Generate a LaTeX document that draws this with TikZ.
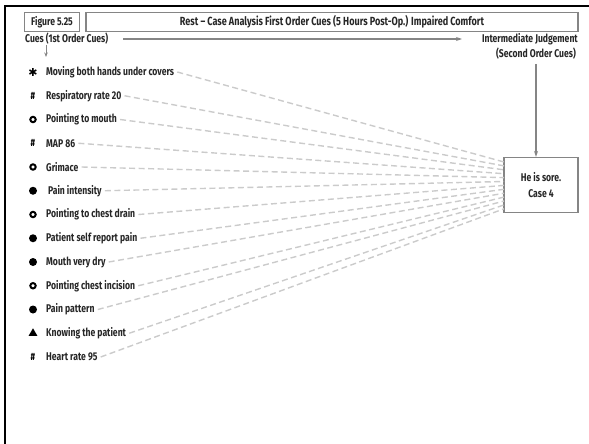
\documentclass[tikz,border=0pt]{standalone}
\usepackage{fontspec}
\setmainfont{Fira Sans}[FakeStretch=0.77]
\newfontfamily\djv{DejaVu Sans}
\usetikzlibrary{shapes.geometric,arrows.meta}
\definecolor{txt}{HTML}{262626}
\definecolor{boxline}{HTML}{858585}
\definecolor{dashc}{HTML}{CBCBCB}
\begin{document}
\begin{tikzpicture}[x=1pt,y=-1pt,
  every node/.style={font=\fontsize{11.2}{12}\selectfont\bfseries, text=txt, inner sep=0pt},
  framebox/.style={draw=boxline, line width=1.1pt, inner sep=0pt},
  cue/.style={anchor=west},
  sym/.style={text=black},
  fan/.style={draw=dashc, line width=1.4pt, dash pattern=on 6pt off 3.5pt},
  garrow/.style={draw=boxline, line width=1.1pt, -{Stealth[length=6pt,width=4pt]}}]
\useasboundingbox (0,0) rectangle (589,444);
% partial frame
\draw[line width=2.5pt, black] (5,444) -- (5,6) -- (589,6);
% header
\node[framebox, minimum width=55pt, minimum height=19pt] (fig) at (52,22) {Figure 5.25};
\node[framebox, minimum width=492pt, minimum height=19pt] (title) at (332,22)
  {\fontsize{11.8}{12}\selectfont Rest -- Case Analysis First Order Cues (5 Hours Post-Op.) Impaired Comfort};
\node[anchor=west] (cues) at (25,39) {Cues (1st Order Cues)};
\node[anchor=east] (ij) at (578,39) {Intermediate Judgement};
\node (soc) at (536,54) {(Second Order Cues)};
\coordinate (ca) at (123,39);
\coordinate (cb) at (462,39);
\draw[garrow] (ca) -- (cb);
\coordinate (dstart) at (46,45);
\coordinate (dend) at (46,57);
\draw[draw=boxline, line width=0.8pt, -{Stealth[length=4.5pt,width=3.5pt]}] (dstart) -- (dend);
% judgement box
\node[framebox, minimum width=74pt, minimum height=55pt, align=center] (box) at (541,185)
  {He is sore.\\[4pt]Case 4};
\coordinate (vs) at (536,64);
\draw[garrow] (vs) -- (box.north -| vs);
% cues
\foreach \i/\t in {
  1/Moving both hands under covers,
  2/Respiratory rate 20,
  3/Pointing to mouth,
  4/MAP 86,
  5/Grimace,
  6/{\,Pain intensity},
  7/Pointing to chest drain,
  8/Patient self report pain,
  9/Mouth very dry,
  10/Pointing chest incision,
  11/Pain pattern,
  12/Knowing the patient,
  13/Heart rate 95}{
  \pgfmathsetmacro{\yy}{72+23.75*(\i-1)}
  \node[cue] (c\i) at (46,\yy) {\t};
  \coordinate (s\i) at (33,\yy);
  \pgfmathsetmacro{\ey}{162+3.9*(\i-1)}
  \coordinate (e\i) at (504,\ey);
  \draw[fan] ([xshift=3pt]c\i.east) -- (e\i);
}
% symbols
\node[sym, font=\djv\fontsize{11}{11}\selectfont] at (s1) {✱};
\foreach \i in {2,4,13}{\node[sym, font=\fontsize{10.5}{10}\selectfont\bfseries] at (s\i) {\#};}
\foreach \i in {3,5,7,10}{\draw[black, line width=2pt] (s\i) circle (2.7pt);}
\foreach \i in {6,8,9,11}{\fill[black] (s\i) circle (4pt);}
\node[sym, fill=black, regular polygon, regular polygon sides=3, minimum size=10pt, inner sep=0pt] at (s12) {};
\end{tikzpicture}
\end{document}
